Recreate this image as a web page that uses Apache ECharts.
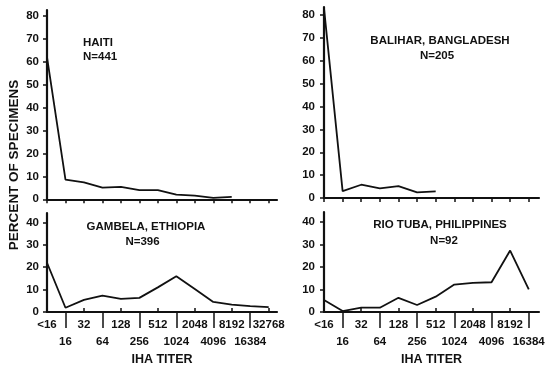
<!DOCTYPE html>
<html>
<head>
<meta charset="utf-8">
<script src="https://cdn.jsdelivr.net/npm/echarts@6/dist/echarts.min.js"></script>
<style>
html,body{margin:0;padding:0;background:#fff;}
#chart{width:549px;height:367px;}
</style>
</head>
<body>
<div id="chart"></div>
<script>
// Tick labels (IHA titer categories)
const titerLabelsLeft = ['<16','16','32','64','128','256','512','1024','2048','4096','8192','16384','32768'];
const titerLabelsRight = ['<16','16','32','64','128','256','512','1024','2048','4096','8192','16384'];
const yTicksTop = [0,10,20,30,40,50,60,70,80];
const yTicksBottom = [0,10,20,30,40];

// Panel titles
const panelNames = ['HAITI','BALIHAR, BANGLADESH','GAMBELA, ETHIOPIA','RIO TUBA, PHILIPPINES'];
const panelN = ['N=441','N=205','N=396','N=92'];

// Series values (percent of specimens), by titer index
const haiti   = [62, 8.6, 7.4, 5.1, 5.4, 4.0, 4.0, 2.0, 1.6, 0.6, 1.1];
const balihar = [83, 3.0, 5.8, 4.2, 5.2, 2.5, 2.9];
const gambela = [22, 1.9, 5.4, 7.3, 5.9, 6.3, 11.0, 16.0, 10.3, 4.5, 3.3, 2.6, 2.2];
const rioTuba = [5.3, 0.4, 1.9, 1.9, 6.3, 3.1, 6.8, 12.2, 12.9, 13.2, 27.3, 10.0];

const FONT = 'Liberation Sans';
const INK = '#111';
const TICKFS = 11.5;

const idxL = titerLabelsLeft.map((_, i) => i);
const idxR = titerLabelsRight.map((_, i) => i);
const evens = a => a.filter(i => i % 2 === 0);
const odds = a => a.filter(i => i % 2 === 1);

function topX(grid, idx, max) {
  return {
    type: 'value', gridIndex: grid, min: 0, max: max, position: 'bottom',
    axisLine: {show: true, onZero: false, lineStyle: {color: INK, width: 2.2}},
    axisTick: {show: true, customValues: idx, length: 4, lineStyle: {color: INK, width: 1.5}},
    axisLabel: {show: false},
    splitLine: {show: false}
  };
}
// main bottom axis: line, short inward ticks and first-row labels (even indices)
function bottomX(grid, idx, labels, max) {
  return {
    type: 'value', gridIndex: grid, min: 0, max: max, position: 'bottom',
    name: 'IHA TITER', nameLocation: 'middle', nameGap: 41,
    nameTextStyle: {fontFamily: FONT, fontWeight: 'bold', fontSize: 12.5, color: INK},
    axisLine: {show: true, onZero: false, lineStyle: {color: INK, width: 2.2}},
    axisTick: {show: true, customValues: evens(idx), inside: true, length: 4, lineStyle: {color: INK, width: 1.5}},
    axisLabel: {
      show: true, customValues: evens(idx), margin: 7, showMaxLabel: true, showMinLabel: true,
      fontFamily: FONT, fontWeight: 'bold', fontSize: TICKFS, color: INK,
      formatter: v => labels[v]
    },
    splitLine: {show: false}
  };
}
// secondary axis: long separator ticks (drawn on y=0) and second-row labels (odd indices)
function barX(grid, idx, labels, max, labelMargin) {
  return {
    type: 'value', gridIndex: grid, min: 0, max: max, position: 'top',
    axisLine: {show: false, onZero: true},
    axisTick: {show: true, customValues: odds(idx), inside: true, length: 16, lineStyle: {color: INK, width: 1.5}},
    axisLabel: {
      show: true, inside: true, customValues: odds(idx), margin: labelMargin, showMaxLabel: true, showMinLabel: true,
      fontFamily: FONT, fontWeight: 'bold', fontSize: TICKFS, color: INK,
      formatter: v => labels[v]
    },
    splitLine: {show: false}
  };
}
function yAx(grid, ticks, max, margin) {
  return {
    type: 'value', gridIndex: grid, min: 0, max: max,
    axisLine: {show: true, lineStyle: {color: INK, width: 2.2}},
    axisTick: {show: true, customValues: ticks, length: 4, lineStyle: {color: INK, width: 1.5}},
    axisLabel: {show: true, customValues: ticks, margin: margin, showMaxLabel: true,
      fontFamily: FONT, fontWeight: 'bold', fontSize: TICKFS, color: INK},
    splitLine: {show: false}
  };
}
function lineSeries(xi, yi, vals) {
  return {
    type: 'line', xAxisIndex: xi, yAxisIndex: yi,
    data: vals.map((v, i) => [i, v]),
    symbol: 'none', silent: true, animation: false,
    lineStyle: {color: INK, width: 1.8}
  };
}
function txt(text, x, y, align, size) {
  return {type: 'text', x: x, y: y, style: {text: text, fill: INK,
    font: 'bold ' + (size || 11.5) + 'px "' + FONT + '"', textAlign: align, textVerticalAlign: 'middle'}};
}

const option = {
  backgroundColor: '#fff',
  animation: false,
  grid: [
    {left: 47, top: 10, width: 230, height: 189.3},
    {left: 324, top: 7, width: 215, height: 191},
    {left: 47, top: 213, width: 230, height: 100.3},
    {left: 324, top: 212, width: 215, height: 100.7}
  ],
  xAxis: [
    topX(0, idxL, 12.45),
    topX(1, idxR, 11.55),
    bottomX(2, idxL, titerLabelsLeft, 12.45),
    barX(2, idxL, titerLabelsLeft, 12.45, 123),
    bottomX(3, idxR, titerLabelsRight, 11.55),
    barX(3, idxR, titerLabelsRight, 11.55, 124)
  ],
  yAxis: [
    yAx(0, yTicksTop, 82.5, 8),
    yAx(1, yTicksTop, 83.5, 9),
    yAx(2, yTicksBottom, 44.2, 8),
    yAx(3, yTicksBottom, 44.4, 9)
  ],
  series: [
    lineSeries(0, 0, haiti),
    lineSeries(1, 1, balihar),
    lineSeries(2, 2, gambela),
    lineSeries(4, 3, rioTuba)
  ],
  graphic: [
    {type: 'text', x: 14, y: 165, rotation: Math.PI / 2,
      style: {text: 'PERCENT OF SPECIMENS', fill: INK, font: 'bold 13.5px "' + FONT + '"',
        textAlign: 'center', textVerticalAlign: 'middle'}},
    txt(panelNames[0], 83, 43, 'left'),
    txt(panelN[0], 83, 57, 'left'),
    txt(panelNames[1], 440, 41, 'center'),
    txt(panelN[1], 437, 55.5, 'center'),
    txt(panelNames[2], 146, 227, 'center'),
    txt(panelN[2], 142.5, 242, 'center'),
    txt(panelNames[3], 440, 225, 'center'),
    txt(panelN[3], 444, 241, 'center')
  ]
};

const chart = echarts.init(document.getElementById('chart'), null, {renderer: 'canvas'});
chart.setOption(option);
</script>
</body>
</html>
